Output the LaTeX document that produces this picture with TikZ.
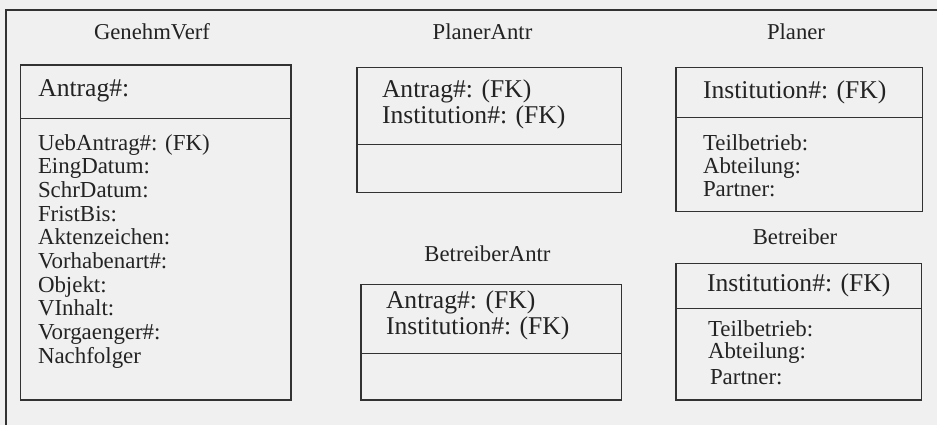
\documentclass[tikz,border=0pt]{standalone}
\usepackage{fontspec}
\setmainfont{Liberation Serif}
\definecolor{bg}{RGB}{240,240,240}
\definecolor{edge}{RGB}{50,50,50}
\definecolor{ink}{RGB}{35,35,35}
\begin{document}
\begin{tikzpicture}[x=1pt,y=-1pt,
  every node/.style={inner sep=0pt, outer sep=0pt, text=ink},
  title/.style={font=\fontsize{22.7}{24}\selectfont, anchor=base},
  head/.style={font=\fontsize{25.6}{27}\selectfont, anchor=base west},
  attr/.style={font=\fontsize{22.9}{24}\selectfont, anchor=base west},
  box/.style={draw=edge, line width=1.1pt, anchor=north west},
  rule/.style={draw=edge, line width=1.1pt},
  frame/.style={draw=edge, line width=1.3pt},
]
\fill[bg] (0,0) rectangle (937,425);
\useasboundingbox (0,0) rectangle (937,425);
% outer frame
\draw[frame] (6,425) -- (6,10) -- (937,10);

% GenehmVerf
\node[title] (gvT) at (152,40) {GenehmVerf};
\node[box, minimum width=270.5pt, minimum height=335pt] (gv) at (20.5,65) {};
\draw[rule] (gv.west |- 0,118.3) -- (gv.east |- 0,118.3);
\node[head] (gvK) at (38.3,96.7) {Antrag\#:};
\foreach \t [count=\i from 0] in {UebAntrag\#: (FK),EingDatum:,SchrDatum:,FristBis:,Aktenzeichen:,Vorhabenart\#:,Objekt:,VInhalt:,Vorgaenger\#:,Nachfolger}
  \node[attr] (gvA\i) at (38,{150.2+23.65*\i}) {\t};

% PlanerAntr
\node[title] (paT) at (482.5,39.5) {PlanerAntr};
\node[box, minimum width=264.5pt, minimum height=125pt] (pa) at (357,67.5) {};
\draw[rule] (pa.west |- 0,144.5) -- (pa.east |- 0,144.5);
\node[head] (paK1) at (382,97.7) {Antrag\#: (FK)};
\node[head] (paK2) at (382,124) {Institution\#: (FK)};

% BetreiberAntr
\node[title] (baT) at (487.5,261.7) {BetreiberAntr};
\node[box, minimum width=260.5pt, minimum height=115.5pt] (ba) at (361,284.5) {};
\draw[rule] (ba.west |- 0,353.5) -- (ba.east |- 0,353.5);
\node[head] (baK1) at (386,308.5) {Antrag\#: (FK)};
\node[head] (baK2) at (386,334) {Institution\#: (FK)};

% Planer
\node[title] (plT) at (796,39.5) {Planer};
\node[box, minimum width=246.5pt, minimum height=144pt] (pl) at (676,67.5) {};
\draw[rule] (pl.west |- 0,117.5) -- (pl.east |- 0,117.5);
\node[head] (plK) at (703,98.3) {Institution\#: (FK)};
\node[attr] (plA0) at (703,150) {Teilbetrieb:};
\node[attr] (plA1) at (703,173.3) {Abteilung:};
\node[attr] (plA2) at (703,196.7) {Partner:};

% Betreiber
\node[title] (beT) at (795,244.3) {Betreiber};
\node[box, minimum width=245.5pt, minimum height=136.5pt] (be) at (676,263.5) {};
\draw[rule] (be.west |- 0,308.5) -- (be.east |- 0,308.5);
\node[head] (beK) at (707,291.7) {Institution\#: (FK)};
\node[attr] (beA0) at (708,336.5) {Teilbetrieb:};
\node[attr] (beA1) at (708,358.5) {Abteilung:};
\node[attr] (beA2) at (710,384) {Partner:};
\end{tikzpicture}
\end{document}
